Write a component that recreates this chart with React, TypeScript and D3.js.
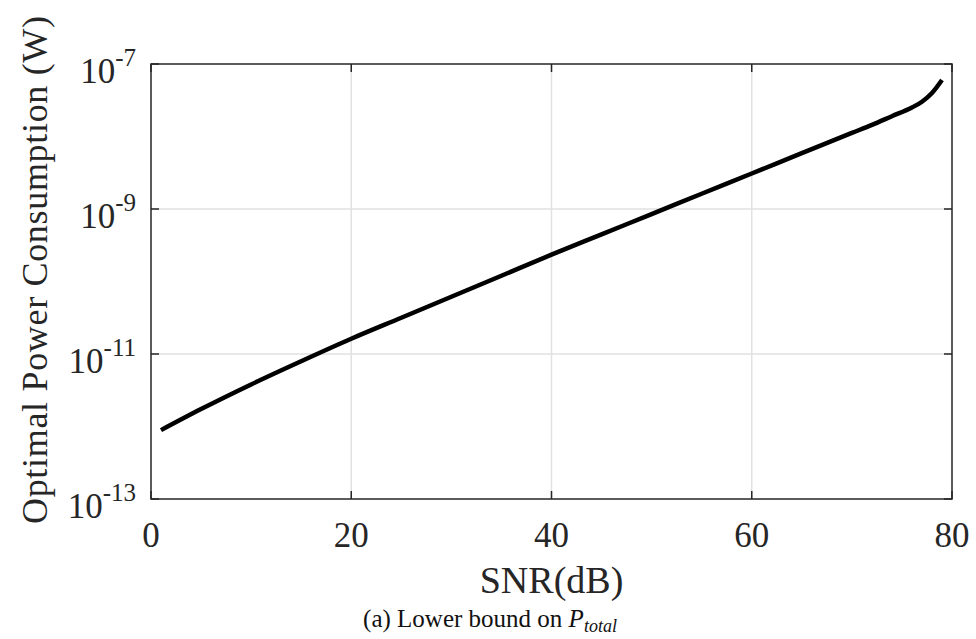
import React from 'react';
import * as d3 from 'd3';

// SNR (dB) sampled along the curve
const snrDb = [1, 5, 10, 15, 20, 25, 30, 35, 40, 45, 50, 55, 60, 65, 70, 72, 74, 76, 77, 78, 79];
// log10 of optimal power consumption (W)
const powerLog = [-12.05, -11.76, -11.42, -11.1, -10.79, -10.5, -10.21, -9.92, -9.63, -9.35, -9.07, -8.79,
  -8.51, -8.23, -7.95, -7.84, -7.72, -7.6, -7.52, -7.4, -7.22];

const xTicks = [0, 20, 40, 60, 80];
const yTickExps = [-13, -11, -9, -7];

const W = 976;
const H = 639;
const margin = { left: 151, right: 24, top: 64, bottom: 140 };
const serif = '"Liberation Serif", "Times New Roman", serif';

export default function App() {
  const x = d3.scaleLinear().domain([0, 80]).range([margin.left, W - margin.right]);
  const y = d3.scaleLog().domain([1e-13, 1e-7]).range([H - margin.bottom, margin.top]);

  const points = snrDb.map((s, i) => [s, Math.pow(10, powerLog[i])] as [number, number]);
  const line = d3.line<[number, number]>()
    .x(d => x(d[0]))
    .y(d => y(d[1]))
    .curve(d3.curveMonotoneX);

  const x0 = x(0), x1 = x(80), yb = y(1e-13), yt = y(1e-7);
  const axisColor = '#262626';

  return (
    <svg width={W} height={H} style={{ position: 'absolute', left: 0, top: 0, background: '#fff' }}>
      {/* grid */}
      {xTicks.slice(1, -1).map(t => (
        <line key={'gx' + t} x1={x(t)} x2={x(t)} y1={yt} y2={yb} stroke="#e1e1e1" strokeWidth={1.5} />
      ))}
      {yTickExps.slice(1, -1).map(e => (
        <line key={'gy' + e} x1={x0} x2={x1} y1={y(Math.pow(10, e))} y2={y(Math.pow(10, e))} stroke="#e1e1e1" strokeWidth={1.5} />
      ))}

      {/* ticks, inward on all sides */}
      {xTicks.map(t => (
        <g key={'tx' + t}>
          <line x1={x(t)} x2={x(t)} y1={yb} y2={yb - 8} stroke={axisColor} strokeWidth={1.5} />
          <line x1={x(t)} x2={x(t)} y1={yt} y2={yt + 8} stroke={axisColor} strokeWidth={1.5} />
          <text x={x(t)} y={547} textAnchor="middle" fontFamily={serif} fontSize={35} fill={axisColor}>{t}</text>
        </g>
      ))}
      {yTickExps.map(e => {
        const yy = y(Math.pow(10, e));
        return (
          <g key={'ty' + e}>
            <line x1={x0} x2={x0 + 8} y1={yy} y2={yy} stroke={axisColor} strokeWidth={1.5} />
            <line x1={x1} x2={x1 - 8} y1={yy} y2={yy} stroke={axisColor} strokeWidth={1.5} />
            <text x={136} y={yy + 19} textAnchor="end" fontFamily={serif} fontSize={35} fill={axisColor}>
              10<tspan dy={-17} fontSize={25}>{e}</tspan>
            </text>
          </g>
        );
      })}

      {/* box */}
      <rect x={x0} y={yt} width={x1 - x0} height={yb - yt} fill="none" stroke={axisColor} strokeWidth={1.5} />

      {/* curve */}
      <path d={line(points) || ''} fill="none" stroke="#000" strokeWidth={4.5} strokeLinejoin="round" />

      {/* axis labels */}
      <text x={x(40)} y={593} textAnchor="middle" fontFamily={serif} fontSize={38} fill={axisColor}>SNR(dB)</text>
      <text transform={`translate(47,${270}) rotate(-90)`} textAnchor="middle" fontFamily={serif} fontSize={36}
        fill={axisColor} textLength={508} lengthAdjust="spacing">Optimal Power Consumption (W)</text>

      {/* caption */}
      <text x={490} y={627} textAnchor="middle" fontFamily={serif} fontSize={25} fill="#111">
        (a) Lower bound on <tspan fontStyle="italic">P</tspan>
        <tspan fontStyle="italic" fontSize={18} dy={5}>total</tspan>
      </text>
    </svg>
  );
}
